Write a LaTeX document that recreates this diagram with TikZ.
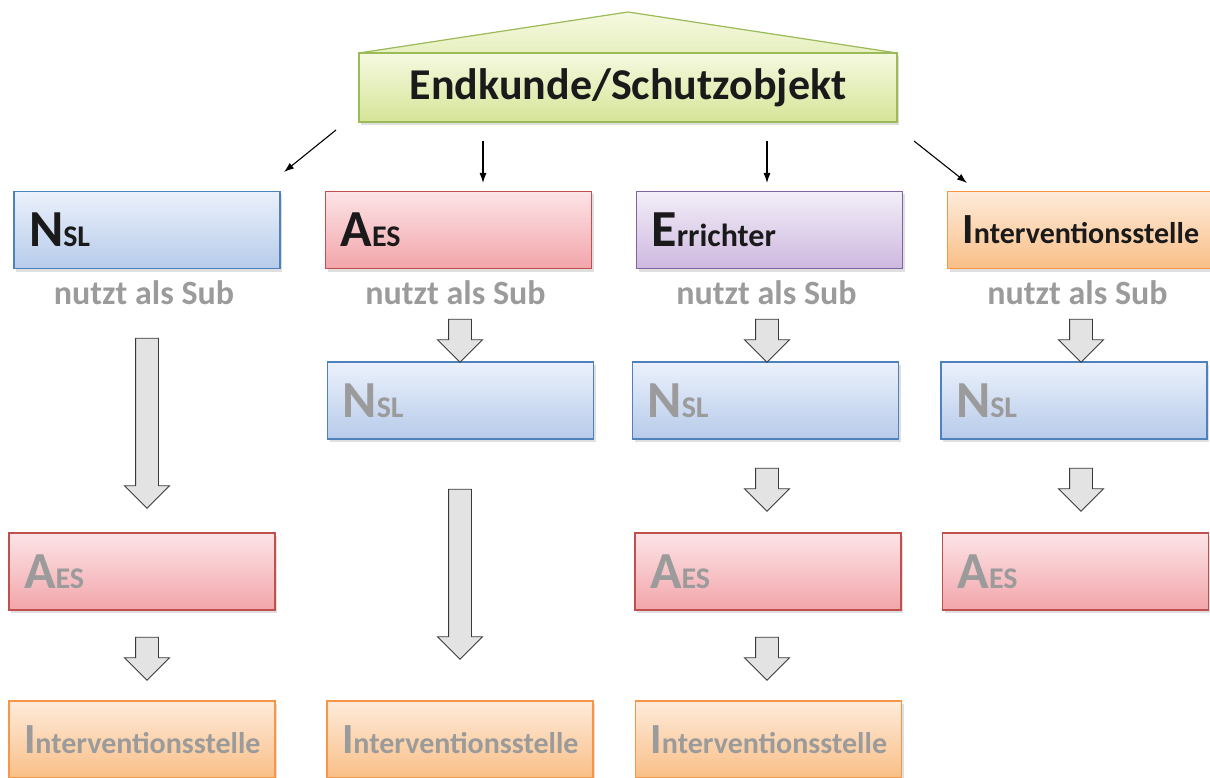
\documentclass[tikz,border=0pt]{standalone}
\usepackage{fontspec}
\setmainfont{Carlito}
\usepackage{tikz}
\usetikzlibrary{shapes.arrows,shadows,arrows.meta}

\definecolor{blueT}{HTML}{EBF1FB}
\definecolor{blueB}{HTML}{B7CBEA}
\definecolor{blueD}{HTML}{4F81BD}
\definecolor{redT}{HTML}{FCE4E7}
\definecolor{redB}{HTML}{F2A5AA}
\definecolor{redD}{HTML}{C0504D}
\definecolor{purT}{HTML}{F3EEF8}
\definecolor{purB}{HTML}{CDB8DF}
\definecolor{purD}{HTML}{8064A2}
\definecolor{orT}{HTML}{FEEBDA}
\definecolor{orB}{HTML}{F9BF87}
\definecolor{orD}{HTML}{F79646}
\definecolor{grT}{HTML}{F5F9E0}
\definecolor{grB}{HTML}{D6E598}
\definecolor{grD}{HTML}{9BBB59}
\definecolor{txtD}{HTML}{1A1A1A}
\definecolor{txtG}{HTML}{9B9B9B}
\definecolor{arrF}{HTML}{E3E3E3}
\definecolor{arrD}{HTML}{3A3A3A}

% big first letter, rest smaller
\newcommand{\boxlbl}[4]{{\fontsize{#1}{#1}\selectfont #3}{\fontsize{#2}{#2}\selectfont #4}}

\begin{document}
\begin{tikzpicture}[
x=1pt,y=-1pt,
catbox/.style={
  draw,
  line width=1.2pt,
  minimum width=266pt,
  minimum height=77pt,
  text width=236pt,
  inner xsep=15pt,
  inner ysep=0pt,
  align=left,
  font=\bfseries,
  drop shadow={shadow xshift=2pt,shadow yshift=-3pt,opacity=.25}
  },
nsl/.style={catbox,draw=blueD,top color=blueT,bottom color=blueB},
aes/.style={catbox,draw=redD,top color=redT,bottom color=redB},
err/.style={catbox,draw=purD,top color=purT,bottom color=purB},
ivs/.style={catbox,draw=orD,top color=orT,bottom color=orB},
active/.style={text=txtD},
passive/.style={text=txtG},
topbox/.style={
  draw=grD,
  line width=1.2pt,
  top color=grT,
  bottom color=grB,
  minimum width=538pt,
  minimum height=69pt,
  text=txtD,
  font=\bfseries\fontsize{44pt}{44pt}\selectfont,
  drop shadow={shadow xshift=2pt,shadow yshift=-3pt,opacity=.25}
  },
subtxt/.style={text=txtG,anchor=base,font=\bfseries\fontsize{34pt}{34pt}\selectfont},
subarrow/.style={
  single arrow,
  draw=arrD,
  fill=arrF,
  line width=.9pt,
  minimum width=0pt,
  single arrow head extend=11pt,
  single arrow tip angle=90,
  inner xsep=0pt,
  inner ysep=11pt,
  rotate=-90
  }
]
\useasboundingbox (0,0) rectangle (1210,778);

% roof and top box
\filldraw[draw=grD,line width=1.2pt,top color=grT,bottom color=grT!55!grB]
  (359,53) -- (628,12) -- (897,53) -- cycle;
\node[topbox] (top) at (628,87.5) {Endkunde/Schutzobjekt};

% first row
\node[nsl,active] (k1) at (147,230) {\boxlbl{52pt}{30pt}{N}{SL}};
\node[aes,active] (k2) at (458.5,230) {\boxlbl{52pt}{30pt}{A}{ES}};
\node[err,active] (k3) at (769.5,230) {\boxlbl{52pt}{32pt}{E}{rrichter}};
\node[ivs,active] (k4) at (1080.5,230) {\boxlbl{43pt}{30pt}{I}{nterventionsstelle}};

\foreach \k in {1,...,4}
  \node[subtxt] (u\k) at ([xshift=-3pt,yshift=-35pt]k\k.south) {nutzt als Sub};

% sub rows
\node[nsl,passive] (n2) at (460.5,400.5) {\boxlbl{52pt}{30pt}{N}{SL}};
\node[nsl,passive] (n3) at (765.5,400.5) {\boxlbl{52pt}{30pt}{N}{SL}};
\node[nsl,passive] (n4) at (1074,400.5) {\boxlbl{52pt}{30pt}{N}{SL}};
\node[aes,passive] (a1) at (142,571.5) {\boxlbl{52pt}{30pt}{A}{ES}};
\node[aes,passive] (a3) at (768,571.5) {\boxlbl{52pt}{30pt}{A}{ES}};
\node[aes,passive] (a4) at (1075.5,571.5) {\boxlbl{52pt}{30pt}{A}{ES}};
\node[ivs,passive] (i1) at (142,739.5) {\boxlbl{43pt}{30pt}{I}{nterventionsstelle}};
\node[ivs,passive] (i2) at (460,739.5) {\boxlbl{43pt}{30pt}{I}{nterventionsstelle}};
\node[ivs,passive] (i3) at (768.5,739.5) {\boxlbl{43pt}{30pt}{I}{nterventionsstelle}};

% block arrows
\foreach \n/\x/\y/\l in {p1/147/417.5/170, q1/147/653/43,
    p2/460/335/43, q2/460/568.5/170,
    p3/767/335/43, q3/767/484/43, r3/767/653/43,
    p4/1081/335/43, q4/1081/484/43}
  \node[subarrow,minimum height=\l pt] (\n) at (\x,\y) {};

% thin arrows from the top box
\coordinate (t1) at (336,130);
\coordinate (e1) at (284,172);
\coordinate (t2) at (483,141);
\coordinate (e2) at (483,183);
\coordinate (t3) at (767,141);
\coordinate (e3) at (767,183);
\coordinate (t4) at (914,141);
\coordinate (e4) at (967,183);
\foreach \k in {1,...,4}
  \draw[-{Latex[length=10pt,width=7pt]},line width=1.1pt] (t\k) -- (e\k);
\end{tikzpicture}
\end{document}
